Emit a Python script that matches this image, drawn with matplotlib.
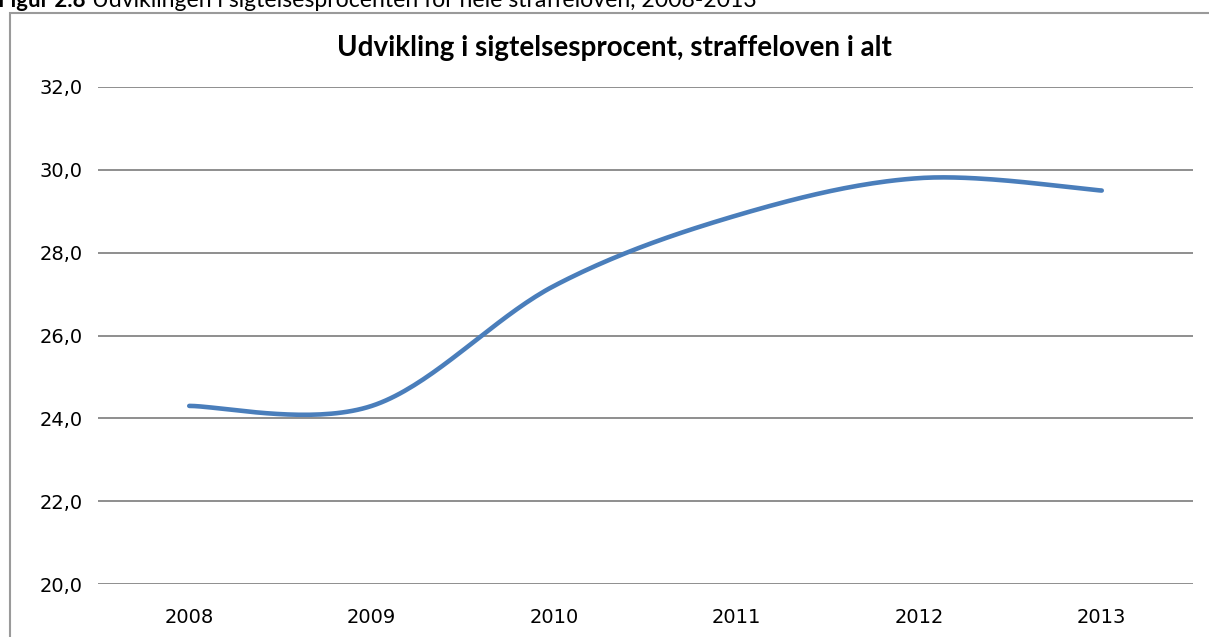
import numpy as np
import matplotlib
matplotlib.use("Agg")
import matplotlib.pyplot as plt
from matplotlib.patches import Rectangle

# data
years = ["2008", "2009", "2010", "2011", "2012", "2013"]
rate = [24.3, 24.3, 27.2, 28.9, 29.8, 29.5]
yticks = [20, 22, 24, 26, 28, 30, 32]

title = "Udvikling i sigtelsesprocent, straffeloven i alt"
caption_bold = "Figur 2.8"
caption = "Udviklingen i sigtelsesprocenten for hele straffeloven, 2008-2013"

line_col = "#4a7ebb"
grid_col = "#868686"


def excel_smooth(x, y, n=40):
    # catmull-rom style bezier like excel's "smoothed line"
    x = np.asarray(x, float)
    y = np.asarray(y, float)
    px = np.concatenate([[x[0]], x, [x[-1]]])
    py = np.concatenate([[y[0]], y, [y[-1]]])
    xs, ys = [], []
    t = np.linspace(0, 1, n)
    for i in range(len(x) - 1):
        p0 = np.array([px[i + 1], py[i + 1]])
        p3 = np.array([px[i + 2], py[i + 2]])
        c1 = p0 + (np.array([px[i + 2], py[i + 2]]) - np.array([px[i], py[i]])) / 6
        c2 = p3 - (np.array([px[i + 3], py[i + 3]]) - np.array([px[i + 1], py[i + 1]])) / 6
        b = ((1 - t) ** 3)[:, None] * p0 + (3 * (1 - t) ** 2 * t)[:, None] * c1 \
            + (3 * (1 - t) * t ** 2)[:, None] * c2 + (t ** 3)[:, None] * p3
        xs.extend(b[:, 0])
        ys.extend(b[:, 1])
    return np.array(xs), np.array(ys)


fig = plt.figure(figsize=(12.09, 6.37), dpi=100)
ax = fig.add_axes([98 / 1209, 1 - 584 / 637, (1193 - 98) / 1209, (584 - 87) / 637])

xpos = np.arange(len(years))
sx, sy = excel_smooth(xpos, rate)
ax.plot(sx, sy, color=line_col, lw=3.3, solid_capstyle="round", zorder=3)

ax.set_xlim(-0.5, len(years) - 0.5)
ax.set_ylim(20, 32)
ax.set_yticks(yticks)
ax.set_yticklabels([f"{v:.1f}".replace(".", ",") for v in yticks], fontsize=14)
ax.set_xticks(xpos)
ax.set_xticklabels(years, fontsize=14)
ax.tick_params(length=0, pad=11)
ax.tick_params(axis="x", pad=17)
for s in ax.spines.values():
    s.set_visible(False)
ax.grid(axis="y", color=grid_col, lw=1.3)
ax.set_axisbelow(True)

fig.text(614 / 1209, 1 - 48 / 637, title, ha="center", va="center",
         fontsize=20, fontweight="bold", family="Lato")

# chart frame, cut by the image edges
fig.patches.append(Rectangle((10 / 1209, -0.1), 1.2, 1 - 13 / 637 + 0.1,
                             transform=fig.transFigure, fill=False,
                             edgecolor="#9a9a9a", lw=1.5))

# figure caption, partly cut off at the top edge as in the source
fig.text(-2 / 1209, 1 - 7 / 637, caption_bold, ha="left", va="baseline",
         fontsize=16, fontweight="bold", family="Lato")
fig.text(92 / 1209, 1 - 7 / 637, caption, ha="left", va="baseline",
         fontsize=16.6, family="Lato")

fig.savefig("out.png", dpi=100)
